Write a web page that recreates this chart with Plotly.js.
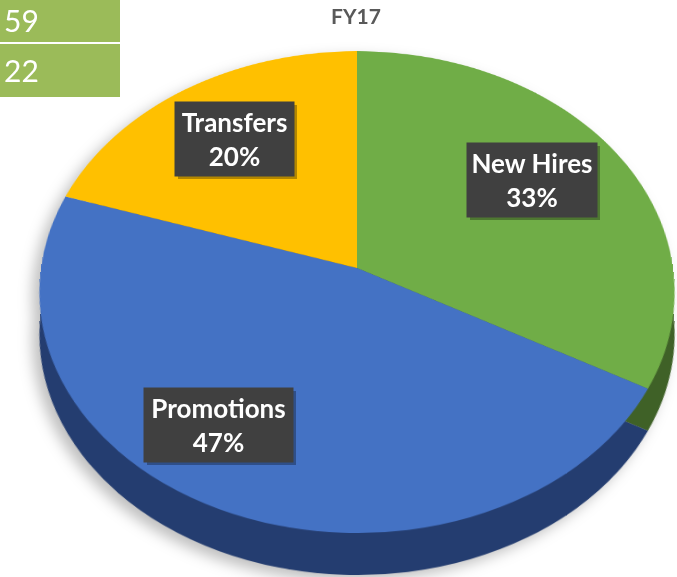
<!DOCTYPE html>
<html>
<head>
<meta charset="utf-8">
<script src="https://cdn.plot.ly/plotly-3.0.1.min.js"></script>
<style>
  html, body { margin:0; padding:0; background:#ffffff; width:677px; height:577px; overflow:hidden; position:relative; }
  #pies { position:absolute; left:0; top:0; width:677px; height:577px;
          filter: drop-shadow(-7px 6px 7px rgba(0,0,0,0.25)); }
  .pie { position:absolute; }
  #overlay { position:absolute; left:0; top:0; width:677px; height:577px; pointer-events:none; }
  #overlay text { font-variant-ligatures: none; }
</style>
</head>
<body>
<div id="pies"><div id="pieSide" class="pie"></div><div id="pieTop" class="pie"></div></div>
<div id="overlay"></div>
<script>
// ---- data ----
const categories = ['New Hires', 'Promotions', 'Transfers'];
const values = [33, 47, 20];
const topColors = ['#70AD47', '#4472C4', '#FFC000'];
const sideColors = ['#3F6127', '#243D70', '#8A6900'];
const cellValues = ['59', '22'];
const chartTitle = 'FY17';

// ---- geometry (layout only) ----
const W = 677, H = 577;
const centerX = 357, centerY = 268;   // where slices meet on screen
const R = 316;                        // disc radius before tilt
const tiltDeg = 41;                   // tilt of the disc
const persp = 2070;                   // perspective distance
const depth = 42;                     // thickness of the disc

function setupPie(id, shiftY, colors) {
  const el = document.getElementById(id);
  el.style.width = (2 * R) + 'px';
  el.style.height = (2 * R) + 'px';
  el.style.left = (centerX - R) + 'px';
  el.style.top = (centerY - R) + 'px';
  el.style.transformOrigin = R + 'px ' + R + 'px';
  el.style.transform = 'translateY(' + shiftY + 'px) perspective(' + persp + 'px) rotateX(' + tiltDeg + 'deg)';
  Plotly.newPlot(el, [{
    type: 'pie', labels: categories, values: values, sort: false,
    direction: 'clockwise', rotation: 0, textinfo: 'none', hoverinfo: 'skip',
    showlegend: false, domain: { x: [0, 1], y: [0, 1] },
    marker: { colors: colors, line: { width: 0 } }
  }], {
    width: 2 * R, height: 2 * R, margin: { l: 0, r: 0, t: 0, b: 0 },
    paper_bgcolor: 'rgba(0,0,0,0)', plot_bgcolor: 'rgba(0,0,0,0)'
  }, { staticPlot: true, displayModeBar: false });
}
setupPie('pieSide', depth, sideColors);
setupPie('pieTop', 0, topColors);

// ---- overlay: title, labels, spreadsheet cells ----
const labelBoxes = [
  { cx: 532, cy: 180, w: 128 },
  { cx: 218.5, cy: 425, w: 147 },
  { cx: 234.5, cy: 139, w: 117 }
];
const cellBoxes = [ { y0: 0, y1: 42, ty: 20 }, { y0: 44, y1: 97, ty: 70 } ];

const px = x => x / W, py = y => 1 - y / H;

const shapes = [];
const annotations = [];

cellValues.forEach((v, i) => {
  const c = cellBoxes[i];
  shapes.push({ type: 'rect', xref: 'paper', yref: 'paper', x0: px(-2), x1: px(120),
                y0: py(c.y1), y1: py(c.y0), fillcolor: '#9BBB59', line: { width: 0 } });
  annotations.push({ xref: 'paper', yref: 'paper', x: px(2), y: py(c.ty), xanchor: 'left', yanchor: 'middle',
                     text: v, showarrow: false, font: { family: 'Lato, sans-serif', size: 30, color: '#ffffff' } });
});

categories.forEach((name, i) => {
  const b = labelBoxes[i];
  shapes.push({ type: 'rect', xref: 'paper', yref: 'paper',
                x0: px(b.cx - b.w / 2 - 1 + 3), x1: px(b.cx + b.w / 2 + 1 + 3),
                y0: py(b.cy + 37 + 3), y1: py(b.cy - 37 + 3),
                fillcolor: 'rgba(0,0,0,0.3)', line: { width: 0 } });
  annotations.push({ xref: 'paper', yref: 'paper', x: px(b.cx), y: py(b.cy), xanchor: 'center', yanchor: 'middle',
                     text: '<b>' + name + '<br>' + values[i] + '%</b>', showarrow: false,
                     width: b.w, height: 72, borderpad: 1, bgcolor: '#404040', align: 'center', valign: 'middle',
                     font: { family: 'Lato, sans-serif', size: 26, color: '#ffffff' } });
});

Plotly.newPlot('overlay', [], {
  width: W, height: H, margin: { l: 0, r: 0, t: 0, b: 0 },
  paper_bgcolor: 'rgba(0,0,0,0)', plot_bgcolor: 'rgba(0,0,0,0)',
  xaxis: { visible: false }, yaxis: { visible: false },
  title: { text: '<b>' + chartTitle + '</b>', x: px(356), xanchor: 'center', y: py(17), yanchor: 'middle',
           font: { family: 'Lato, sans-serif', size: 21, color: '#595959' } },
  shapes: shapes, annotations: annotations
}, { staticPlot: true, displayModeBar: false });
</script>
</body>
</html>
